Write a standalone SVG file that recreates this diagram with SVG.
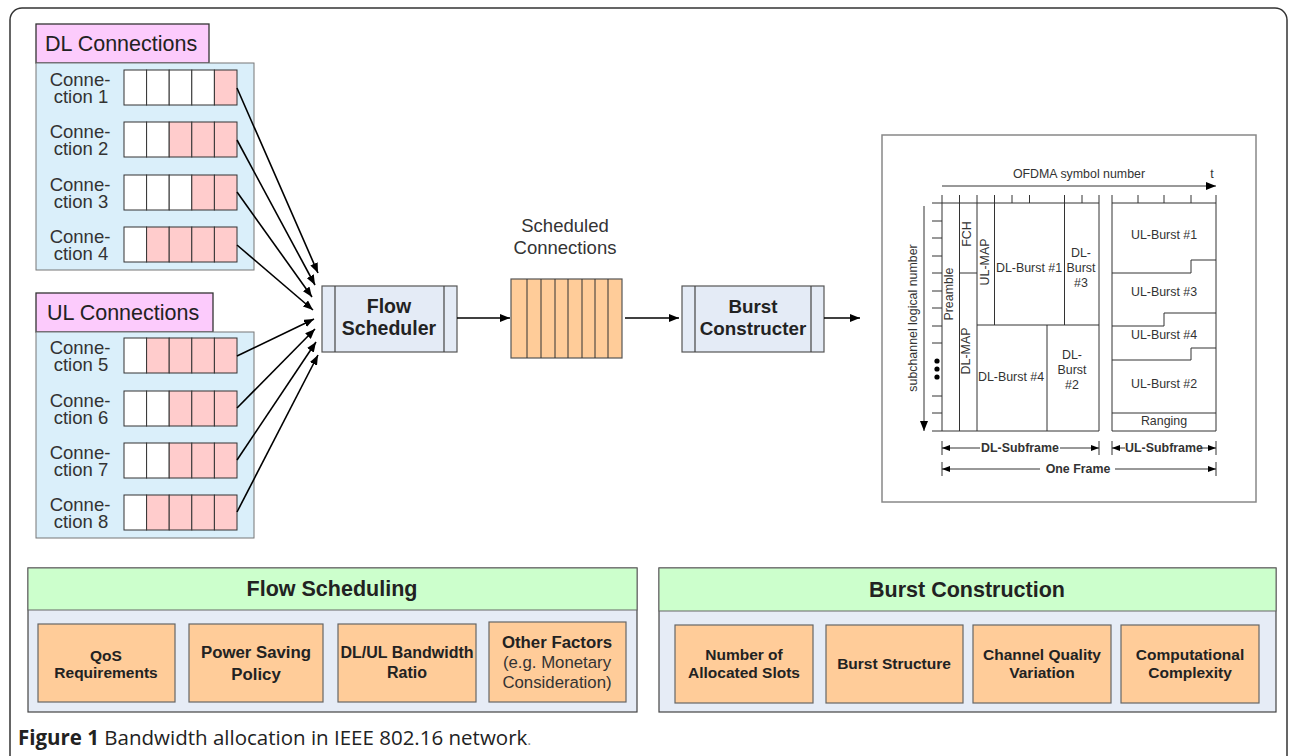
<svg xmlns="http://www.w3.org/2000/svg" width="1290" height="756" viewBox="0 0 1290 756">
<defs>
<marker id="ah" viewBox="0 0 10 8" refX="10" refY="4" markerWidth="10" markerHeight="8" markerUnits="userSpaceOnUse" orient="auto"><path d="M0,0 L10,4 L0,8 z" fill="#000"/></marker>
<marker id="ahs" viewBox="0 0 8 6" refX="8" refY="3" markerWidth="8" markerHeight="6" markerUnits="userSpaceOnUse" orient="auto-start-reverse"><path d="M0,0 L8,3 L0,6 z" fill="#000"/></marker>
<style>
.lbl{font-family:"Liberation Sans",Arial,sans-serif;font-size:18.5px;fill:#333;text-anchor:middle}
.hdr{font-family:"Liberation Sans",Arial,sans-serif;font-size:21.5px;fill:#222}
.pink{fill:#fccbfc;stroke:#333;stroke-width:1.3}
.panel{fill:#daeffa;stroke:#777;stroke-width:1}
.cw{fill:#fff;stroke:#333;stroke-width:1}
.cp{fill:#ffcccc;stroke:#333;stroke-width:1}
.proc{fill:#e4ebf6;stroke:#555;stroke-width:1.2}
.pl{stroke:#444;stroke-width:1.2}
.bt{font-family:"Liberation Sans",Arial,sans-serif;font-size:19.5px;font-weight:bold;fill:#222;text-anchor:middle}
.bt2{font-family:"Liberation Sans",Arial,sans-serif;font-size:18.8px;font-weight:bold;fill:#222;text-anchor:middle}
.conn{stroke:#000;stroke-width:1.6;fill:none}
.fr{stroke:#333;stroke-width:1;fill:none}
.ft{font-family:"Liberation Sans",Arial,sans-serif;font-size:12.4px;fill:#333;text-anchor:middle}
.fb{font-family:"Liberation Sans",Arial,sans-serif;font-size:12.4px;font-weight:bold;fill:#333;text-anchor:middle}
.green{fill:#ccffcc;stroke:#666;stroke-width:1}
.gp{fill:#e6ecf6;stroke:#444;stroke-width:1.2}
.ob{fill:#ffcc99;stroke:#666;stroke-width:1.2}
.h2{font-family:"Liberation Sans",Arial,sans-serif;font-size:21.5px;font-weight:bold;fill:#222;text-anchor:middle}
.it{font-family:"Liberation Sans",Arial,sans-serif;font-size:15.5px;font-weight:bold;fill:#222;text-anchor:middle}
.it16{font-family:"Liberation Sans",Arial,sans-serif;font-size:16px;font-weight:bold;fill:#222;text-anchor:middle}
.it17{font-family:"Liberation Sans",Arial,sans-serif;font-size:16.8px;font-weight:bold;fill:#222;text-anchor:middle}
.itn{font-family:"Liberation Sans",Arial,sans-serif;font-size:16.8px;fill:#333;text-anchor:middle}
</style>
</defs>
<rect x="10" y="8" width="1277" height="780" rx="12" fill="#fff" stroke="#333" stroke-width="1.5"/>

<g id="dl-connections">
<rect class="pink" x="36" y="24" width="173" height="39"/>
<text class="hdr" x="45" y="51">DL Connections</text>
<rect class="panel" x="36" y="63" width="218" height="207"/>
</g>
<g id="conn1">
<text class="lbl" x="80" y="86">Conne-</text><text class="lbl" x="81" y="103">ction 1</text>
<rect class="cw" x="124" y="70" width="22.6" height="35"/><rect class="cw" x="146.6" y="70" width="22.6" height="35"/><rect class="cw" x="169.2" y="70" width="22.6" height="35"/><rect class="cw" x="191.8" y="70" width="22.6" height="35"/><rect class="cp" x="214.4" y="70" width="22.6" height="35"/>
</g>
<g id="conn2">
<text class="lbl" x="80" y="138">Conne-</text><text class="lbl" x="81" y="155">ction 2</text>
<rect class="cw" x="124" y="122" width="22.6" height="35"/><rect class="cw" x="146.6" y="122" width="22.6" height="35"/><rect class="cp" x="169.2" y="122" width="22.6" height="35"/><rect class="cp" x="191.8" y="122" width="22.6" height="35"/><rect class="cp" x="214.4" y="122" width="22.6" height="35"/>
</g>
<g id="conn3">
<text class="lbl" x="80" y="191">Conne-</text><text class="lbl" x="81" y="208">ction 3</text>
<rect class="cw" x="124" y="175" width="22.6" height="35"/><rect class="cw" x="146.6" y="175" width="22.6" height="35"/><rect class="cw" x="169.2" y="175" width="22.6" height="35"/><rect class="cp" x="191.8" y="175" width="22.6" height="35"/><rect class="cp" x="214.4" y="175" width="22.6" height="35"/>
</g>
<g id="conn4">
<text class="lbl" x="80" y="243">Conne-</text><text class="lbl" x="81" y="260">ction 4</text>
<rect class="cw" x="124" y="227" width="22.6" height="35"/><rect class="cp" x="146.6" y="227" width="22.6" height="35"/><rect class="cp" x="169.2" y="227" width="22.6" height="35"/><rect class="cp" x="191.8" y="227" width="22.6" height="35"/><rect class="cp" x="214.4" y="227" width="22.6" height="35"/>
</g>

<g id="ul-connections">
<rect class="pink" x="36" y="293" width="177" height="39"/>
<text class="hdr" x="47" y="320">UL Connections</text>
<rect class="panel" x="36" y="332" width="218" height="206"/>
</g>
<g id="conn5">
<text class="lbl" x="80" y="354">Conne-</text><text class="lbl" x="81" y="371">ction 5</text>
<rect class="cw" x="124" y="338" width="22.6" height="35"/><rect class="cp" x="146.6" y="338" width="22.6" height="35"/><rect class="cp" x="169.2" y="338" width="22.6" height="35"/><rect class="cp" x="191.8" y="338" width="22.6" height="35"/><rect class="cp" x="214.4" y="338" width="22.6" height="35"/>
</g>
<g id="conn6">
<text class="lbl" x="80" y="407">Conne-</text><text class="lbl" x="81" y="424">ction 6</text>
<rect class="cw" x="124" y="391" width="22.6" height="35"/><rect class="cw" x="146.6" y="391" width="22.6" height="35"/><rect class="cp" x="169.2" y="391" width="22.6" height="35"/><rect class="cp" x="191.8" y="391" width="22.6" height="35"/><rect class="cp" x="214.4" y="391" width="22.6" height="35"/>
</g>
<g id="conn7">
<text class="lbl" x="80" y="459">Conne-</text><text class="lbl" x="81" y="476">ction 7</text>
<rect class="cw" x="124" y="443" width="22.6" height="35"/><rect class="cw" x="146.6" y="443" width="22.6" height="35"/><rect class="cp" x="169.2" y="443" width="22.6" height="35"/><rect class="cp" x="191.8" y="443" width="22.6" height="35"/><rect class="cp" x="214.4" y="443" width="22.6" height="35"/>
</g>
<g id="conn8">
<text class="lbl" x="80" y="511">Conne-</text><text class="lbl" x="81" y="528">ction 8</text>
<rect class="cw" x="124" y="495" width="22.6" height="35"/><rect class="cp" x="146.6" y="495" width="22.6" height="35"/><rect class="cp" x="169.2" y="495" width="22.6" height="35"/><rect class="cp" x="191.8" y="495" width="22.6" height="35"/><rect class="cp" x="214.4" y="495" width="22.6" height="35"/>
</g>

<g id="flow-scheduler">
<rect class="proc" x="322" y="286" width="135" height="66"/>
<line class="pl" x1="335" y1="286" x2="335" y2="352"/><line class="pl" x1="444" y1="286" x2="444" y2="352"/>
<text class="bt" x="389" y="313">Flow</text><text class="bt" x="389" y="335">Scheduler</text>
</g>

<g id="scheduled-connections">
<text class="lbl" x="565" y="232">Scheduled</text><text class="lbl" x="565" y="254">Connections</text>
<rect x="511" y="279" width="111" height="79" fill="#ffcc99" stroke="#555" stroke-width="1.2"/>
<g stroke="#333" stroke-width="1">
<line x1="527" y1="279" x2="527" y2="358"/><line x1="541" y1="279" x2="541" y2="358"/><line x1="555" y1="279" x2="555" y2="358"/><line x1="568" y1="279" x2="568" y2="358"/><line x1="582" y1="279" x2="582" y2="358"/><line x1="595" y1="279" x2="595" y2="358"/><line x1="608" y1="279" x2="608" y2="358"/>
</g>
</g>

<g id="burst-constructer">
<rect class="proc" x="682" y="286" width="142" height="66"/>
<line class="pl" x1="695" y1="286" x2="695" y2="352"/><line class="pl" x1="811" y1="286" x2="811" y2="352"/>
<text class="bt2" x="753" y="313">Burst</text><text class="bt2" x="753" y="335">Constructer</text>
</g>

<g id="connectors">
<line class="conn" x1="237" y1="88" x2="318" y2="273" marker-end="url(#ah)"/>
<line class="conn" x1="237" y1="140" x2="315" y2="285" marker-end="url(#ah)"/>
<line class="conn" x1="237" y1="192" x2="312" y2="297" marker-end="url(#ah)"/>
<line class="conn" x1="237" y1="245" x2="313" y2="310" marker-end="url(#ah)"/>
<line class="conn" x1="237" y1="356" x2="314" y2="319" marker-end="url(#ah)"/>
<line class="conn" x1="237" y1="408" x2="315" y2="329" marker-end="url(#ah)"/>
<line class="conn" x1="237" y1="460" x2="316" y2="342" marker-end="url(#ah)"/>
<line class="conn" x1="237" y1="512" x2="318" y2="355" marker-end="url(#ah)"/>
<line class="conn" x1="457" y1="318" x2="510" y2="318" marker-end="url(#ah)"/>
<line class="conn" x1="625" y1="318" x2="679" y2="318" marker-end="url(#ah)"/>
<line class="conn" x1="824" y1="318" x2="860" y2="318" marker-end="url(#ah)"/>
</g>

<g id="frame">
<rect x="882" y="135" width="374" height="367" fill="#fff" stroke="#888" stroke-width="1.5"/>
<text class="ft" x="1079" y="178">OFDMA symbol number</text>
<text class="ft" x="1212" y="178">t</text>
<line class="fr" x1="942" y1="186" x2="1216" y2="186" marker-end="url(#ah)"/>
<line class="fr" x1="924" y1="206" x2="924" y2="431" marker-end="url(#ah)"/>
<text class="ft" transform="translate(917,318) rotate(-90)">subchannel logical number</text>
<circle cx="937" cy="361" r="2.6" fill="#000"/><circle cx="937" cy="369" r="2.6" fill="#000"/><circle cx="937" cy="377" r="2.6" fill="#000"/>
<g class="fr">
<path d="M932,203 H1099 M932,431 H1099"/>
<path d="M942,195 V431 M959.5,195 V431 M977,195 V431 M1099,195 V431"/>
<path d="M994.5,195 V325 M1064.5,195 V325 M1047,325 V431 M1012,195 V203 M1029.5,195 V203 M1082,195 V203"/>
<path d="M959.5,273 H977 M977,325 H1099"/>
<path d="M932,221 H942 M932,238 H942 M932,256 H942 M932,273 H942 M932,291 H942 M932,308 H942 M932,326 H942 M932,343 H942 M932,396 H942 M932,413 H942"/>
<path d="M1112,195 V431 M1216,195 V431 M1138,195 V203 M1164,195 V203 M1191,195 V203 M1112,203 H1216 M1112,431 H1216"/>
<path d="M1112,273 H1191 V260 H1216 M1112,326 H1164 V313 H1216 M1112,360 H1191 V348 H1216 M1112,413 H1216"/>
</g>
<text class="ft" transform="translate(953,294) rotate(-90)">Preamble</text>
<text class="ft" transform="translate(971,234) rotate(-90)">FCH</text>
<text class="ft" transform="translate(989,262) rotate(-90)">UL-MAP</text>
<text class="ft" transform="translate(970,351) rotate(-90)">DL-MAP</text>
<text class="ft" x="1029" y="272">DL-Burst #1</text>
<text class="ft" x="1081" y="257">DL-</text><text class="ft" x="1081" y="272">Burst</text><text class="ft" x="1081" y="287">#3</text>
<text class="ft" x="1011" y="381">DL-Burst #4</text>
<text class="ft" x="1072" y="359">DL-</text><text class="ft" x="1072" y="374">Burst</text><text class="ft" x="1072" y="389">#2</text>
<text class="ft" x="1164" y="239">UL-Burst #1</text>
<text class="ft" x="1164" y="296">UL-Burst #3</text>
<text class="ft" x="1164" y="339">UL-Burst #4</text>
<text class="ft" x="1164" y="388">UL-Burst #2</text>
<text class="ft" x="1164" y="425">Ranging</text>
<g class="fr">
<path d="M942,441 V455 M1099,441 V455 M1112,441 V455 M1216,441 V455 M942,462 V476 M1216,462 V476"/>
</g>
<line class="fr" x1="980" y1="448" x2="942" y2="448" marker-end="url(#ahs)"/>
<line class="fr" x1="1060" y1="448" x2="1099" y2="448" marker-end="url(#ahs)"/>
<line class="fr" x1="1125" y1="448" x2="1112" y2="448" marker-end="url(#ahs)"/>
<line class="fr" x1="1200" y1="448" x2="1216" y2="448" marker-end="url(#ahs)"/>
<line class="fr" x1="1040" y1="469" x2="942" y2="469" marker-end="url(#ahs)"/>
<line class="fr" x1="1115" y1="469" x2="1216" y2="469" marker-end="url(#ahs)"/>
<text class="fb" x="1020" y="452">DL-Subframe</text>
<text class="fb" x="1164" y="452">UL-Subframe</text>
<text class="fb" x="1078" y="473">One Frame</text>
</g>

<g id="flow-scheduling">
<rect class="gp" x="28" y="568" width="609" height="144"/>
<rect class="green" x="28" y="568" width="609" height="42"/>
<text class="h2" x="332" y="596">Flow Scheduling</text>
</g>
<g id="qos"><rect class="ob" x="38" y="624" width="137" height="78"/><text class="it" x="106" y="661">QoS</text><text class="it" x="106" y="678">Requirements</text></g>
<g id="power-saving"><rect class="ob" x="189" y="624" width="134" height="78"/><text class="it17" x="256" y="658">Power Saving</text><text class="it17" x="256" y="680">Policy</text></g>
<g id="dlul-ratio"><rect class="ob" x="338" y="624" width="138" height="78"/><text class="it16" x="407" y="658">DL/UL Bandwidth</text><text class="it16" x="407" y="678">Ratio</text></g>
<g id="other-factors"><rect class="ob" x="489" y="622" width="137" height="80"/><text class="it17" x="557" y="648">Other Factors</text><text class="itn" x="557" y="668">(e.g. Monetary</text><text class="itn" x="557" y="688">Consideration)</text></g>

<g id="burst-construction">
<rect class="gp" x="659" y="568" width="617" height="144"/>
<rect class="green" x="659" y="568" width="617" height="43"/>
<text class="h2" x="967" y="597">Burst Construction</text>
</g>
<g id="allocated-slots"><rect class="ob" x="675" y="625" width="138" height="78"/><text class="it" x="744" y="660">Number of</text><text class="it" x="744" y="678">Allocated Slots</text></g>
<g id="burst-structure"><rect class="ob" x="826" y="625" width="137" height="78"/><text class="it" x="894" y="669">Burst Structure</text></g>
<g id="channel-quality"><rect class="ob" x="973" y="625" width="138" height="78"/><text class="it" x="1042" y="660">Channel Quality</text><text class="it" x="1042" y="678">Variation</text></g>
<g id="complexity"><rect class="ob" x="1121" y="625" width="138" height="78"/><text class="it" x="1190" y="660">Computational</text><text class="it" x="1190" y="678">Complexity</text></g>

<text x="18" y="745" font-family="'Open Sans','Liberation Sans',sans-serif" font-size="20.5" fill="#222"><tspan font-weight="bold">Figure 1</tspan> Bandwidth allocation in IEEE 802.16 network<tspan fill="#888" font-size="15">.</tspan></text>
</svg>
